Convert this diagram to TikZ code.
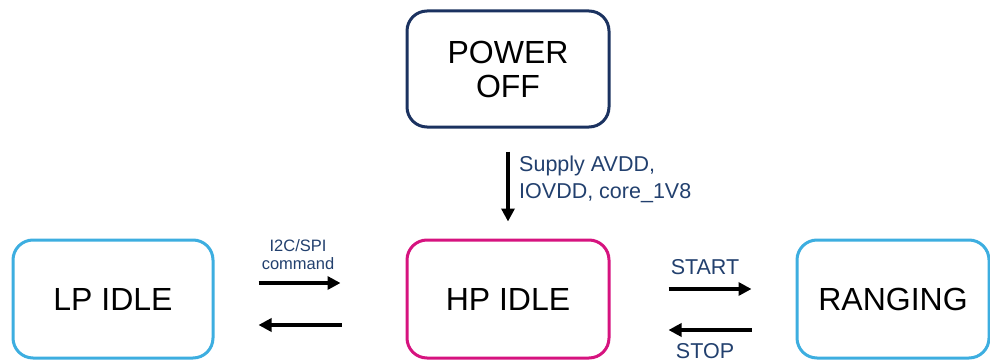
\documentclass[tikz,border=0pt]{standalone}
\usepackage{fontspec}
\setmainfont{Liberation Sans}
\usetikzlibrary{arrows.meta}
\definecolor{navybox}{HTML}{1B3260}
\definecolor{magentabox}{HTML}{D6137F}
\definecolor{skybox}{HTML}{3DAEE0}
\definecolor{labelblue}{HTML}{22406E}
\tikzset{
  state/.style={draw, line width=3pt, rounded corners=20pt, fill=white,
    align=center, inner sep=0pt, font=\fontsize{32}{34}\selectfont},
  trans/.style={line width=3.5pt, -{Triangle[length=13pt,width=13pt]}},
  translabel/.style={text=labelblue, inner sep=0pt}
}
\begin{document}
\begin{tikzpicture}[x=1pt,y=-1pt]
\useasboundingbox (0,0) rectangle (990,361);

% Stati
\node[state, draw=navybox, minimum width=202pt, minimum height=116pt] (off) at (508,69) {POWER\\OFF};
\node[state, draw=magentabox, minimum width=202pt, minimum height=118pt] (hp) at (508,299) {HP IDLE};
\node[state, draw=skybox, minimum width=200pt, minimum height=118pt] (lp) at (113,299) {LP IDLE};
\node[state, draw=skybox, minimum width=192pt, minimum height=118pt] (rng) at (893,299) {RANGING};

% Transizioni
\draw[trans, shorten <=23pt, shorten >=17pt] (off.south) -- (hp.north);
\draw[trans, shorten <=44pt, shorten >=65pt] ([yshift=16pt]lp.east) -- ([yshift=16pt]hp.west);
\draw[trans, shorten <=64pt, shorten >=44pt] ([yshift=-26pt]hp.west) -- ([yshift=-26pt]lp.east);
\draw[trans, shorten <=58pt, shorten >=44pt] ([yshift=10pt]hp.east) -- ([yshift=10pt]rng.west);
\draw[trans, shorten <=44pt, shorten >=58pt] ([yshift=-31pt]rng.west) -- ([yshift=-31pt]hp.east);

% Etichette
\node[translabel, anchor=west, align=left, font=\fontsize{21.5}{27}\selectfont] (supply) at (519,179) {Supply AVDD,\\IOVDD, core\_1V8};
\node[translabel, align=center, font=\fontsize{16.5}{18}\selectfont] (cmd) at (298,255) {I2C/SPI\\command};
\node[translabel, font=\fontsize{21.5}{25}\selectfont] (start) at (705,267) {START};
\node[translabel, font=\fontsize{21.5}{25}\selectfont] (stop) at (705,351) {STOP};
\end{tikzpicture}
\end{document}
